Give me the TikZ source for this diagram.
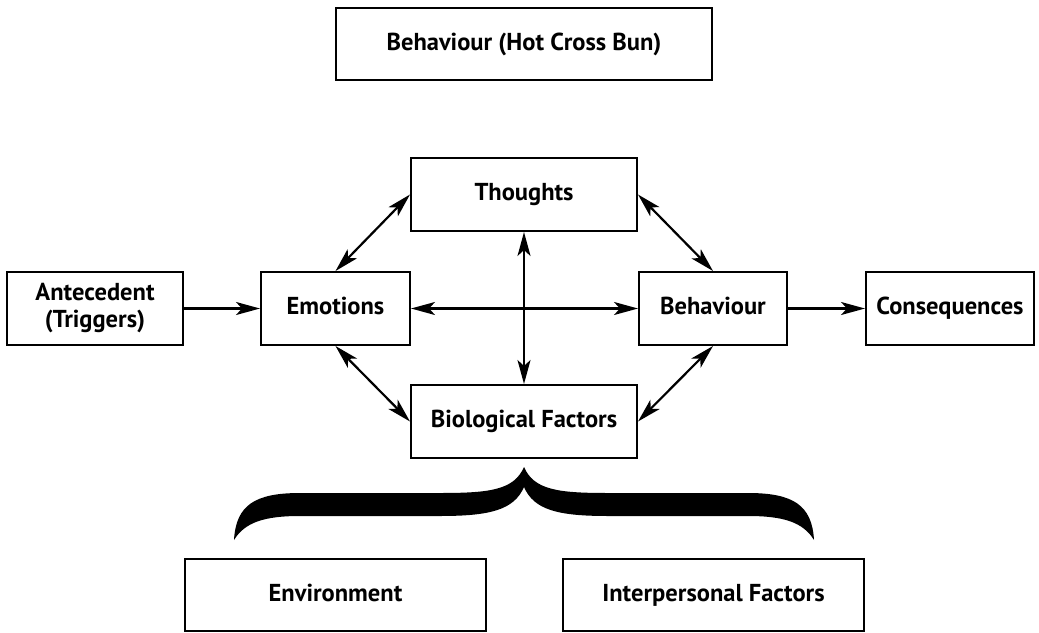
\documentclass[tikz,border=0pt]{standalone}
\usepackage{fontspec}
\setmainfont{PT Sans}
\usetikzlibrary{arrows.meta}
\begin{document}
\begin{tikzpicture}[x={(1pt,0)},y={(0,-1pt)},
  box/.style={draw=black,line width=2pt,inner sep=0pt,minimum height=73pt,align=center,text height=17pt,text depth=5pt,font=\fontsize{24.5}{27}\selectfont\bfseries,fill=white},
  tip/.tip={Stealth[length=24pt,width=13pt,inset=6pt]},
  conn/.style={line width=2.2pt,-tip},
  biconn/.style={line width=2.2pt,tip-tip}]
\useasboundingbox (0,0) rectangle (1039,632);
\node[box,minimum width=376pt,minimum height=72pt] (hcb) at (524,44) {Behaviour (Hot Cross Bun)};
\node[box,minimum width=226pt] (thoughts) at (524,194.5) {Thoughts};
\node[box,minimum width=176pt,text height=,text depth=] (ante) at (95,308.5) {Antecedent\\(Triggers)};
\node[box,minimum width=149pt] (emo) at (335.5,308.5) {Emotions};
\node[box,minimum width=148pt] (beh) at (713,308.5) {Behaviour};
\node[box,minimum width=168pt] (cons) at (950,308.5) {Consequences};
\node[box,minimum width=226pt] (bio) at (524,421.5) {Biological Factors};
\node[box,minimum width=301pt,minimum height=72pt] (env) at (335.5,595) {Environment};
\node[box,minimum width=301pt,minimum height=72pt] (inter) at (713.5,595) {Interpersonal Factors};
\draw[conn] (ante) -- (emo);
\draw[conn] (beh) -- (cons);
\draw[biconn] (emo) -- (beh);
\draw[biconn] (thoughts) -- (bio);
\draw[biconn] (emo.north) -- (thoughts.west);
\draw[biconn] (emo.south) -- (bio.west);
\draw[biconn] (thoughts.east) -- (beh.north);
\draw[biconn] (beh.south) -- (bio.east);
\fill[black] (524,467) .. controls (514,490) and (490,493) .. (440,493) -- (300,493)
  .. controls (255,493) and (236,505) .. (234,540)
  .. controls (245,522) and (265,516) .. (300,516) -- (440,516)
  .. controls (490,516) and (514,510) .. (524,487)
  .. controls (534,510) and (558,516) .. (608,516) -- (748,516)
  .. controls (783,516) and (803,522) .. (814,540)
  .. controls (812,505) and (793,493) .. (748,493) -- (608,493)
  .. controls (558,493) and (534,490) .. (524,467) -- cycle;
\end{tikzpicture}
\end{document}
